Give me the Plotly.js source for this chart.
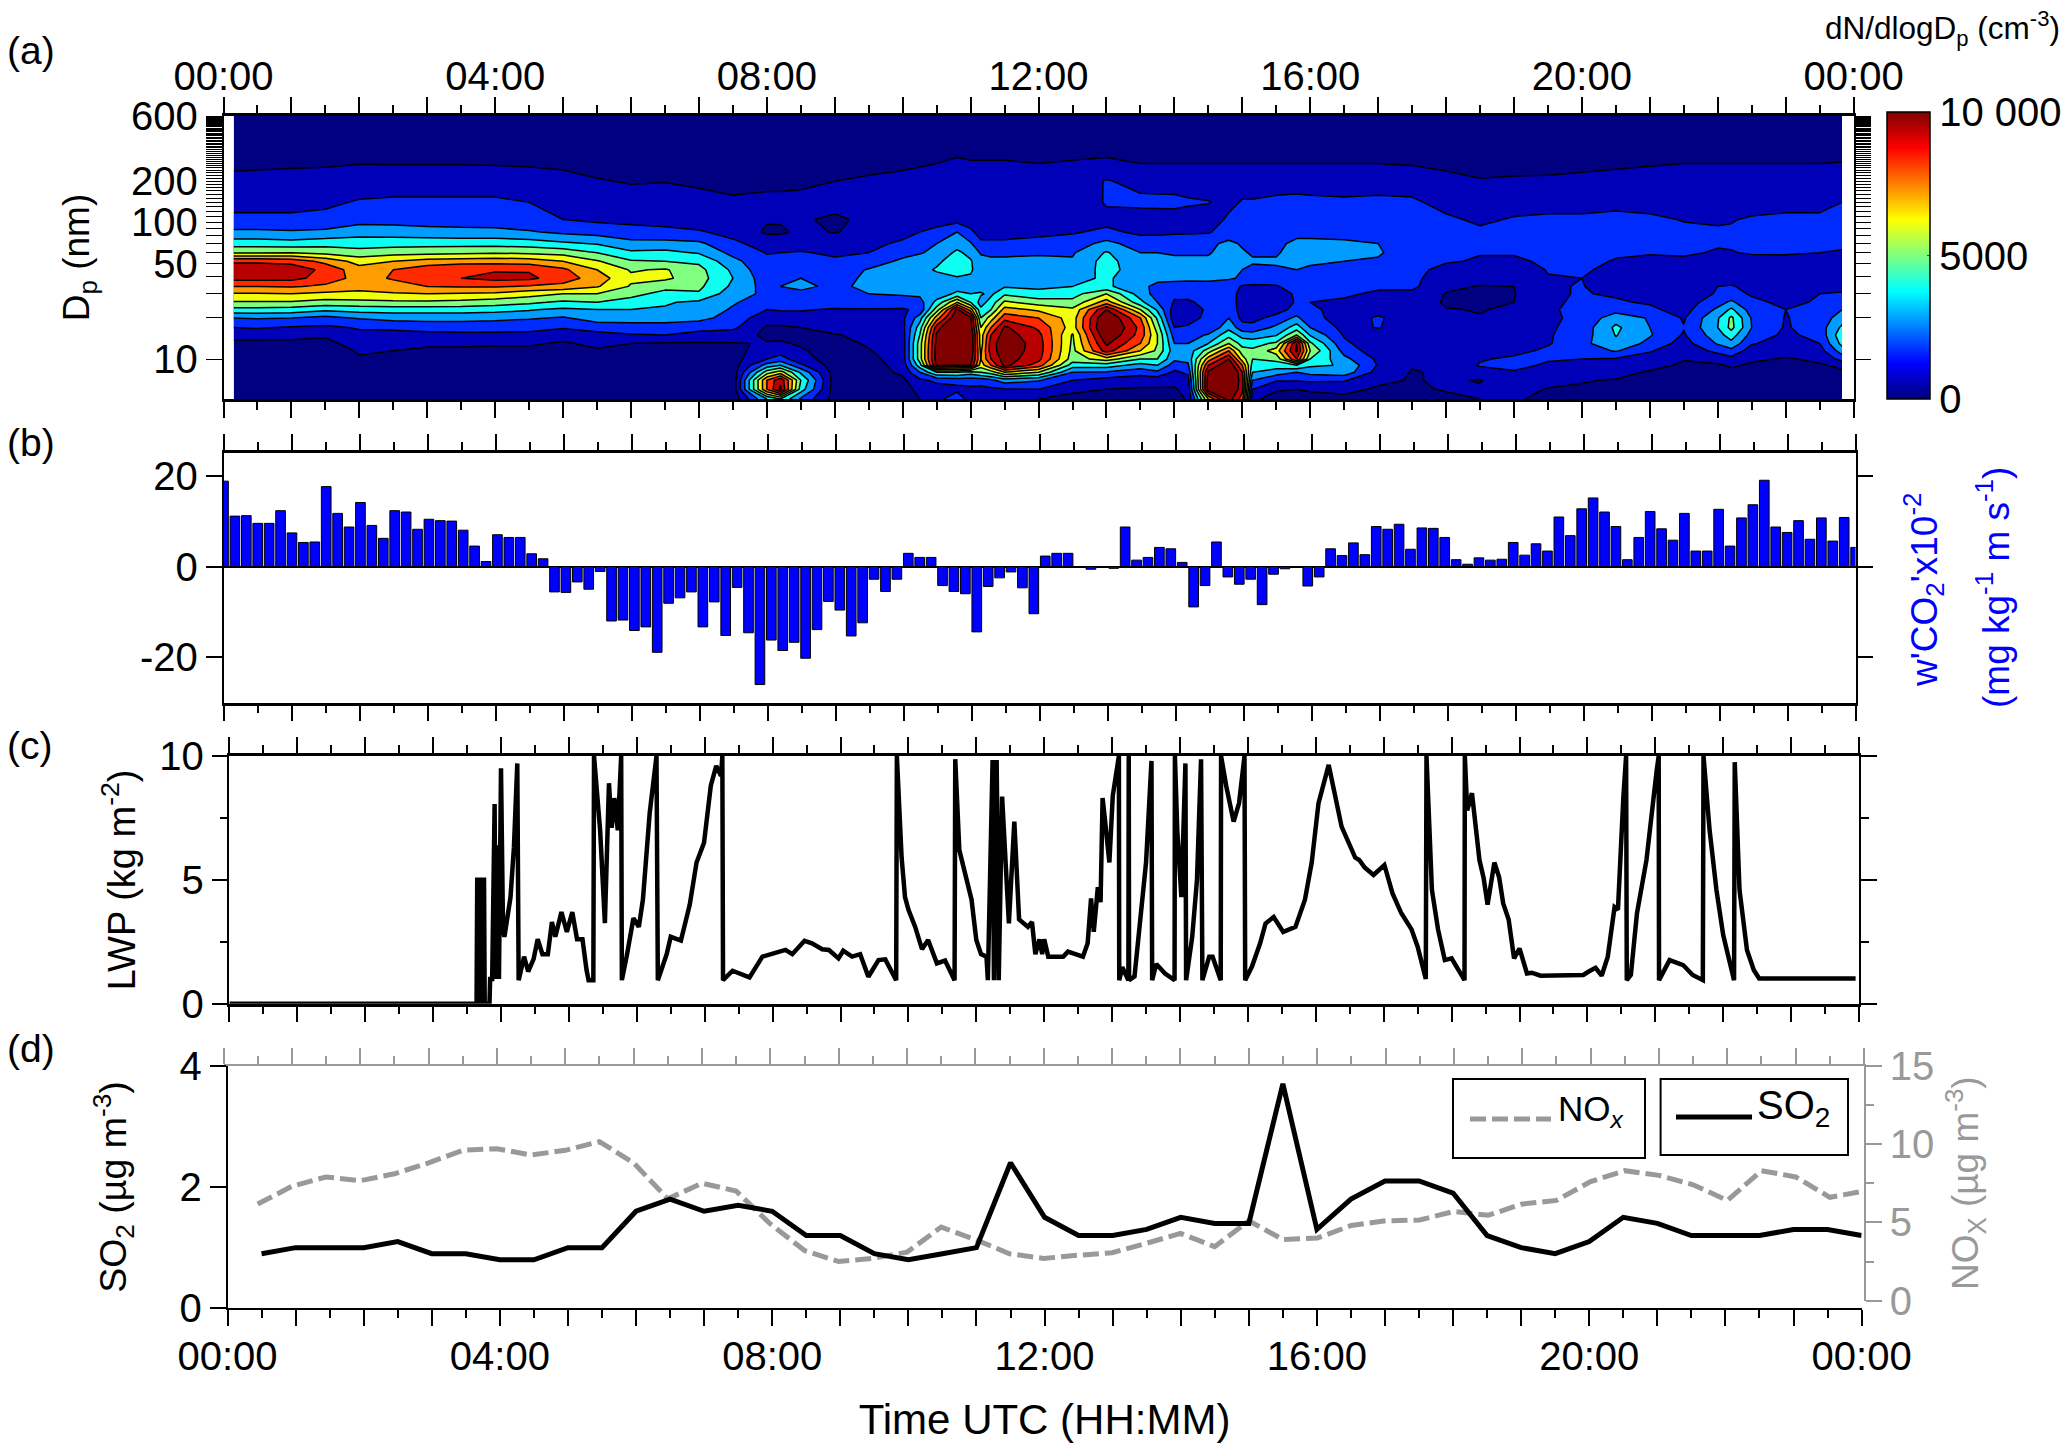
<!DOCTYPE html>
<html>
<head>
<meta charset="utf-8">
<script src="https://cdn.plot.ly/plotly-3.0.1.min.js"></script>
<style>body { margin: 0; background: #fff; }</style>
</head>
<body>
<div id="chart"></div>
<script>
// ---------- panel (a): particle size distribution, in 1000 cm-3 ----------
const sizeTimes = [0.15,0.5,1,1.5,2,2.5,3,3.5,4,4.5,5,5.5,6,6.5,7,7.5,8,8.2,8.5,9,9.5,10,10.25,10.5,10.8,11,11.15,11.3,11.5,12,12.5,13,13.5,13.75,14,14.2,14.5,14.8,15,15.15,15.5,15.8,16,16.5,17,17.5,18,18.5,19,19.5,20,20.5,21,21.5,22,22.2,22.5,23,23.5,23.83];
const diameters = [5.1,6,7,8,9,10,11.5,13,15,17,20,23,26,30,34,39,45,52,60,70,85,105,140,200,270,600];
// one profile per time, small to large diameter
const sizeProfiles = [
[.3,.3,.3,.35,.4,.5,.6,.8,1.3,2,3,4.7,5.9,6.9,8,9.3,9.7,8.8,5.9,4.5,3.2,2.2,1.7,1.2,.85,.3],
[.3,.3,.3,.35,.4,.5,.6,.8,1.3,2.1,3.1,4.7,5.9,6.9,8,9.3,9.7,8.8,5.9,4.5,3.2,2.2,1.7,1.2,.88,.3],
[.3,.3,.3,.35,.4,.5,.6,.85,1.2,1.9,3,4.6,5.9,7,8.1,9.3,9.7,8.6,6,4.4,3.1,2.2,1.7,1.25,.9,.3],
[.3,.3,.3,.3,.35,.4,.5,.8,1.1,1.8,2.7,4.2,5.6,6.8,7.8,8.6,8.7,7.7,5.7,4.6,3.2,2.3,1.8,1.3,.92,.3],
[.3,.3,.3,.3,.4,.9,1.1,1.3,1.7,2.1,3.1,4.4,5.7,6.8,7.3,7.6,7.4,6.6,5.4,4.5,3.6,2.6,2.1,1.4,.98,.3],
[.3,.3,.3,.3,.35,.5,1,1.2,1.5,2.3,3.3,4.5,5.8,6.9,7.6,8.1,8,7,5.6,4.6,3.5,2.6,2.2,1.4,.97,.3],
[.3,.3,.3,.3,.35,.45,.9,1.1,1.6,2.5,3.3,4.5,5.8,7,8,8.6,8.6,7.4,5.7,4.6,3.4,2.5,2.2,1.4,.97,.3],
[.3,.3,.3,.3,.35,.45,.9,1.1,1.7,2.5,3.3,4.5,5.7,6.9,8.1,9,9,7.5,5.8,4.6,3.3,2.5,2.2,1.4,.97,.3],
[.3,.3,.3,.3,.35,.45,.8,1.1,1.7,2.5,3.2,4.4,5.5,6.8,8.1,9.3,8.9,7.6,5.9,4.6,3.3,2.4,2.2,1.4,.95,.3],
[.3,.3,.3,.3,.35,.45,.8,1.1,1.7,2.4,3.1,4.1,5.2,6.4,7.9,9.2,8.9,7.5,5.8,4.5,3.1,2.2,2,1.35,.92,.3],
[.3,.3,.3,.3,.35,.5,.7,.9,1.3,2.1,2.9,3.8,4.8,6,7.7,8.5,8.2,7,5.6,4.2,2.8,2,1.6,1.25,.85,.3],
[.3,.3,.3,.3,.35,.45,.9,1.2,1.6,2.5,3.4,4,5,6,7.1,7.5,7,6.1,5,3.9,2.6,1.8,1.5,1.05,.75,.3],
[.3,.3,.3,.3,.35,.4,.7,1,1.9,2.6,3.4,4,4.6,5.3,5.9,6.2,5.9,5.1,4.2,3.3,2.4,1.7,1.3,.95,.7,.3],
[.3,.3,.3,.3,.35,.4,.6,.9,2,2.7,3.3,3.9,4.1,4.7,5.3,6.2,6.1,5,4.3,3.3,2.3,1.6,1.3,.98,.72,.3],
[.3,.3,.3,.3,.35,.4,.6,.9,1.6,2.4,3.3,3.5,3.8,4.9,5.2,5.4,5.3,4.8,3.9,3.2,2.1,1.5,1.2,.9,.7,.3],
[.3,.3,.3,.4,.5,.6,.8,.95,1.5,2.2,2.6,2.9,3.1,3.4,3.8,4,3.8,3.3,2.7,2.2,1.7,1.3,1.1,.8,.65,.3],
[4,8,8,5.5,3.4,2,1.3,1.05,.8,.9,1.4,2,2.5,2.8,2.6,2.4,2.2,2.2,1.95,1.6,.85,1.1,1.3,.72,.55,.3],
[5,10.2,9.8,6.5,4,2.4,1.6,1.1,.8,.9,1.4,2.1,2.5,2.9,3,2.8,2.3,2.2,2,1.6,.85,1.1,1.3,.72,.55,.3],
[2.8,4.5,5,3.8,2.2,1.4,1.1,.9,.8,1,1.5,2.1,2.7,2.9,3.1,3,2.4,2.1,2.05,1.7,1.2,1.1,1.3,.8,.6,.3],
[.6,.5,.5,.5,.5,.5,.6,.7,.95,1.3,1.7,1.9,2.5,3,2.9,2.6,2.3,2.1,1.9,1.6,.95,.85,1.3,1,.7,.3],
[.5,.5,.5,.5,.55,.7,.95,1.1,1.2,1.4,1.7,1.9,2.7,3,3.1,3.2,3.1,2.2,2,1.7,1.3,1.2,1.3,1.1,.8,.3],
[.6,.7,.8,1.2,1.4,1.5,1.5,1.5,1.6,1.7,1.8,1.9,2.6,3.1,3.3,3.4,3.5,3.3,2.5,2.2,1.6,1.3,1.35,1.15,.9,.3],
[1,1.2,1.8,3,4.5,5.5,5.5,5.5,5,4.5,3.5,2.2,2.6,3.2,3.4,3.5,3.7,3.5,2.9,2.6,2,1.35,1.35,1.2,.95,.3],
[1.5,1.6,2.2,5,10.2,10.5,10.5,10.3,10.2,9.5,7.5,5.5,4.3,3.4,3.5,3.7,4.1,3.8,3.3,3,2.4,1.4,1.4,1.2,1,.3],
[3,1.6,2.5,5,10,11,12,13,13,12,11,10.2,7,4.2,3.6,3.9,4.5,4.5,4.2,3.6,3,1.6,1.5,1.2,1.1,.3],
[1.3,1.8,2.4,4.5,10,10.5,11,11,11,10.5,10.2,7.5,5,4,3.6,3.9,4.1,4.1,3.7,3.1,2.2,1.5,1.3,1.2,1.05,.3],
[1,1.7,2.5,5,6.5,7,6.8,6.5,6.5,6,5,4.2,3.6,4.1,3.6,3.5,3.6,3.3,2.9,2.2,1.6,1.4,1.2,1.15,1.05,.3],
[1.1,1.8,2.8,5.5,8,9,9.5,9.5,9,8,6.5,5,4.4,3.8,3.6,3.5,3.4,3.1,2.9,2.2,1.6,1.3,1.15,1.1,1.05,.3],
[1.2,1.9,3.5,7,10.3,10.5,10.7,10.8,10.5,10.2,8.6,7.4,6.2,4.8,3.9,3.6,3.3,3.1,2.9,2.2,1.6,1.3,1.15,1.1,1.05,.3],
[1,2,3.1,6,8.5,9.3,9.5,9.5,9.3,8.8,8,6.8,5.5,4.3,3.8,3.5,3.6,3.2,2.9,2.4,1.7,1.3,1.15,1.05,1,.3],
[.85,1.1,2,3,4.5,5.5,5.7,5.8,5.9,6.5,6.5,6.2,5.3,4.6,4,3.6,3.2,3.1,2.9,2.5,1.9,1.4,1.2,1.1,1.05,.3],
[.8,1,1.6,2.9,4.5,6.5,9.5,10.2,11,11.5,11.2,10,7.5,6,4.2,4.2,4.4,4.4,4.1,3.3,2.2,1.7,2.1,2.1,1.1,.3],
[.7,.9,1.4,2.4,3.6,5,7,8,8.6,8.7,8,6,4.3,3.5,3.2,3.2,3.4,3.2,3,2.5,1.8,1.4,2.3,1.6,1,.3],
[.7,.9,1.4,2.8,4,5,5.8,6,6,5.5,4.8,3.8,3,2.6,2.8,3.2,3.4,3.2,3,2.5,1.8,1.45,2.3,1.55,1,.3],
[.7,.9,1.3,1.8,2.5,3.2,3.4,3,2.5,2,1.3,1.5,1.9,2.2,2.7,3.2,3.4,3.2,2.9,2.4,1.9,1.5,2.3,1.5,1,.3],
[1.1,1.3,1.6,2.2,2.8,3.3,3.4,3,2.6,2.1,1.7,1.7,1.9,2.2,2.6,3.2,3.4,3.2,2.9,2.5,1.9,1.5,2.15,1.45,1,.3],
[7,10.5,10.5,10.2,9,7.5,5.5,4,3.1,2.1,2.2,2.1,2.2,2.2,2.5,3.3,3.4,3.2,2.9,2.8,1.9,1.4,2.05,1.4,1,.3],
[10.5,11.5,12,12,11,10,8,6,4.6,3.7,3,2.6,2.5,2.4,2.5,3.1,3.5,3.6,3.5,3.2,2.5,2.2,1.7,1.4,1,.3],
[8.5,9.3,9.3,9,8,6.5,5.4,4.6,3.6,2.4,1.7,1.6,1.6,1.7,1.9,2.9,3,3.2,3.1,2.9,2.5,2.3,2.1,1.4,1,.3],
[1.2,2,3,4,4.6,5,5.2,4.6,3.4,2.4,1.6,1.5,1.5,1.6,1.8,2.7,2.8,3.1,2.9,2.8,2.5,2.3,2.1,1.4,1,.3],
[.6,1.1,2.1,3.5,4.5,5.3,6.5,5.2,3.9,3.2,2.4,1.5,1.4,1.5,1.9,2.6,2.9,3.1,2.9,2.7,2.6,2.4,2.3,1.4,1,.3],
[.6,1,2.1,3,5,9,10.2,10,6,4.5,3.2,2.4,2.1,2.15,2.5,3,3,3.3,3.4,3.3,2.6,2.5,2.4,1.4,1,.3],
[.7,1.1,2.2,3.3,4.2,5,6,5.2,3.9,3,2.3,2.1,2,2.1,2.2,2.4,2.8,3.2,3.3,3.3,2.6,2.4,2.3,1.4,1,.3],
[.8,1.2,2.1,3.6,3.9,3.3,2.6,2.2,1.9,1.7,1.6,1.8,1.9,2.1,2.1,2.3,2.6,3,3.3,3.2,2.6,2.4,2.2,1.4,1,.3],
[.7,.9,1.15,1.6,1.9,1.8,1.4,1.3,1.6,2.05,2.1,1.7,1.9,1.9,2.1,2.3,2.6,2.9,3.1,3,2.6,2.4,2.3,1.4,1,.3],
[.6,.8,.95,.95,1.05,1.1,1.2,1.3,1.4,1.5,1.55,1.6,1.7,1.8,2.2,2.3,2.3,2.4,2.5,2.5,2.5,2.4,2.2,1.4,.95,.3],
[.7,1.1,1.1,1.1,1.1,1.15,1.2,1.2,1.1,1.05,1.05,1.05,.85,.95,1.2,1.3,1.7,2.1,2.2,2.2,2.1,2.2,1.6,1.2,.85,.3],
[1,1.1,.95,1.5,2.1,1.9,1.5,1.3,1.2,1.1,1.05,.95,.9,.9,.95,1.3,1.6,1.9,2.05,2.2,2.2,1.8,1.4,1.05,.75,.3],
[1.1,1.3,1.6,1.9,2.3,2.2,1.7,1.4,1.3,1.2,1.1,1.15,1,.95,1,1.2,1.5,1.8,2.1,2.4,2.4,2.1,1.5,1.1,.75,.3],
[.8,.95,1.3,1.6,1.85,2.1,2.2,1.9,1.9,1.85,1.85,1.9,1.9,1.9,1.9,1.95,2.05,2.2,2.3,2.4,2.4,2.2,1.6,1.1,.8,.3],
[.8,.9,1.05,1.5,1.7,2,2.4,2.7,2.5,2.4,2.2,2.2,2.1,2.05,2.05,2,2.2,2.4,2.5,2.6,2.5,2.2,1.6,1.15,.85,.3],
[.7,.8,.95,1.3,1.6,1.9,3.1,3.8,4.05,4.2,3.6,2.6,2.1,1.9,1.5,1.5,1.6,1.9,2.2,2.5,2.6,2.3,1.7,1.2,.9,.3],
[.6,.7,.85,.9,1.3,1.5,2.1,2.7,3.1,3,2.9,2.2,1.9,1.7,1.5,1.4,1.5,1.7,2.1,2.4,2.5,2.2,1.6,1.25,.95,.3],
[.5,.5,.55,.65,.85,1.05,1.3,1.6,1.9,2.05,1.9,1.6,1.5,1.4,1.4,1.4,1.5,1.8,2.15,2.3,2.2,1.95,1.6,1.25,1,.3],
[.5,.5,.6,.7,.9,1.3,2.3,3.1,3.6,4,3.9,3.2,2.6,2.1,2,1.5,1.4,1.5,1.9,2.1,2.1,1.9,1.6,1.3,1,.3],
[.5,.5,.6,.8,1.1,1.7,2.7,3.7,4.5,5.3,5.2,4.2,3.2,2.3,2.1,1.5,1.4,1.6,1.95,2.1,2.1,1.95,1.6,1.3,1,.3],
[.5,.5,.6,.7,.9,1.1,1.5,2.1,2.6,3,2.9,2.5,2.2,1.9,1.6,1.4,1.4,1.6,2.1,2.3,2.3,2.1,1.6,1.3,1,.3],
[.5,.5,.55,.7,.85,.95,1.2,1.5,1.8,1.9,1.95,2,1.8,1.6,1.5,1.4,1.4,1.7,2.1,2.3,2.4,2.2,1.7,1.3,1,.3],
[.5,.5,.6,.7,.95,1.1,1.6,2,2.3,2.5,2.4,2.2,2.1,2,1.7,1.5,1.5,1.7,2,2.2,2.4,2.2,1.7,1.3,1,.3],
[.5,.6,.7,.9,1.1,2.4,3.5,4.3,4.7,4.2,3.5,3,2.5,2.1,1.7,1.6,1.6,1.7,1.95,2.1,2.3,2.6,2,1.4,1.02,.3]
];
const dpLabelled = [10, 50, 100, 200, 600];

// ---------- panel (b): CO2 flux, 143 steps over the day ----------
const co2Flux = [18.8,11.1,11.2,9.5,9.5,12.3,7.4,5.3,5.4,17.6,
 11.7,8.7,14.1,9.05,6.2,12.3,12,8.2,10.4,10.1,
 10,8,4.5,1.1,7,6.4,6.4,2.8,1.7,-5.6,
 -5.7,-3.4,-5,-1.1,-12,-11.8,-14.1,-13.3,-18.9,-8.1,
 -6.9,-5.6,-13.3,-7.8,-15.2,-4.6,-14.6,-26,-16.2,-18.5,
 -16.7,-20.2,-13.9,-7.7,-9.6,-15.3,-12.4,-2.8,-5.5,-2.8,
 2.9,2,2,-4.2,-5.5,-6,-14.4,-4.4,-2.5,-1.2,
 -4.7,-10.4,2.3,2.9,2.9,0,-.6,-.1,-.4,8.7,
 1.4,2,4.2,3.9,.9,-8.9,-4.2,5.4,-2.3,-3.9,
 -2.8,-8.4,-1.7,-.5,-.1,-4.3,-2.3,3.9,2.4,5.2,
 2.6,8.8,8.2,9.3,3.8,8.5,8.4,6.4,1.5,.5,
 1.9,1.4,1.6,5.3,2.5,5,3.4,10.9,6.8,12.7,
 15.1,12,8.8,1.5,6.4,12.1,8.3,5.8,11.7,3.4,
 3.4,12.6,4.5,10.7,13.6,19,8.7,7.5,10.1,6,
 10.7,5.6,10.8,4.2];

// ---------- panel (c): liquid water path ----------
const lwpTimes = [0,3.64,3.65,3.68,3.69,3.71,3.72,3.75,3.76,3.83,3.84,3.87,3.906,3.92,3.94,3.97,4,4.03,4.05,4.14,4.19,4.24,4.26,4.34,4.4,4.48,4.54,4.61,4.69,4.75,4.8,4.89,4.97,5.05,5.12,5.2,5.26,5.29,5.36,5.37,5.46,5.53,5.59,5.63,5.67,5.72,5.77,5.78,5.85,5.95,6.03,6.09,6.19,6.29,6.31,6.44,6.5,6.65,6.78,6.88,6.99,7.09,7.17,7.24,7.26,7.27,7.41,7.66,7.85,8,8.19,8.29,8.47,8.58,8.73,8.83,8.97,9.04,9.17,9.29,9.41,9.56,9.66,9.82,9.83,9.9,9.95,10,10.1,10.2,10.29,10.42,10.54,10.68,10.69,10.75,10.83,10.93,11,11.07,11.15,11.17,11.24,11.26,11.3,11.33,11.38,11.43,11.48,11.56,11.63,11.76,11.82,11.87,11.93,11.97,12,12.06,12.28,12.35,12.57,12.64,12.69,12.73,12.79,12.83,12.86,12.9,12.96,13.01,13.1,13.105,13.15,13.24,13.245,13.25,13.33,13.4,13.5,13.58,13.59,13.65,13.71,13.78,13.92,13.925,13.96,14.02,14.08,14.09,14.18,14.25,14.31,14.33,14.43,14.48,14.6,14.605,14.68,14.79,14.87,14.95,14.96,15.06,15.18,15.26,15.38,15.52,15.7,15.84,15.94,16.04,16.19,16.28,16.38,16.58,16.64,16.72,16.85,17.01,17.13,17.26,17.41,17.5,17.62,17.63,17.71,17.8,17.9,18,18.19,18.195,18.23,18.3,18.36,18.41,18.47,18.53,18.63,18.7,18.76,18.84,18.92,19,19.11,19.18,19.31,19.94,20.02,20.12,20.21,20.3,20.4,20.45,20.53,20.57,20.58,20.64,20.73,20.87,21.02,21.05,21.055,21.21,21.41,21.55,21.7,21.71,21.8,21.9,22,22.09,22.16,22.17,22.24,22.35,22.45,22.53,23.95];
const lwpValues = [0,0,5,5,0,0,5,5,0,0,1,1,8.06,1,6.4,1,9.5,3,2.7,4.3,6.3,9.7,.95,1.9,1.3,1.8,2.6,2,2,3.3,2.7,3.7,2.9,3.7,2.6,2.6,1.36,.95,.95,10,7,3.25,8.9,7.1,8.3,7,10,.95,1.9,3.45,3.1,4.2,7.7,10,.95,2,2.7,2.55,4,5.7,6.5,8.8,9.6,9.2,10,.95,1.33,1.06,1.9,2,2.17,2,2.54,2.44,2.2,2.17,1.83,2.14,1.9,2,1.09,1.76,1.79,.95,10,5.9,4.3,3.8,3.1,2.2,2.57,1.63,1.74,.95,9.87,6.2,5.3,4.2,2.57,2,1.9,.95,9.84,.95,9.84,.95,8.36,5.7,3.24,7.35,3.4,3.1,3.3,2,2.6,2,2.6,1.9,1.9,2.1,1.9,2.44,4.25,2.9,4.7,4.1,8.3,7.3,5.7,8.4,10,.95,1.47,.95,10,.95,1.1,3,5.7,9.8,.95,1.6,1.43,1.22,.95,10,7,4.3,9.7,.95,2.7,5,9.87,.95,1.9,1.9,.95,10,8.8,7.35,8.1,10,.95,1.5,2.44,3.24,3.5,2.9,3.1,4.2,5.7,8.1,9.64,8.4,7.15,5.9,5.8,5.5,5.2,5.6,4.45,3.65,3,2.3,1,10,4.6,3,1.76,1.83,.95,10,7.8,8.5,7,5.8,5.1,4,5.7,5.1,4.05,3.4,1.83,2.23,1.22,1.25,1.13,1.16,1.3,1.45,1.13,1.9,3.9,3.8,8.36,10,.95,1.16,3.65,5.8,9.4,10,.95,1.76,1.56,1.16,.95,10,7,4.6,2.77,1.76,.95,9.75,4.6,2.17,1.36,1.02,1.02];

// ---------- panel (d): half hourly gases ----------
const gasTimes = [0.5,1,1.5,2,2.5,3,3.5,4,4.5,5,5.5,6,6.5,7,7.5,8,8.5,9,9.5,10,10.5,11,11.5,12,12.5,13,13.5,14,14.5,15,15.5,16,16.5,17,17.5,18,18.5,19,19.5,20,20.5,21,21.5,22,22.5,23,23.5,24];
const so2Values = [.9,1,1,1,1.1,.9,.9,.8,.8,1,1,1.6,1.8,1.6,1.7,1.6,1.2,1.2,.9,.8,.9,1,2.4,1.5,1.2,1.2,1.3,1.5,1.4,1.4,3.7,1.3,1.8,2.1,2.1,1.9,1.2,1,.9,1.1,1.5,1.4,1.2,1.2,1.2,1.3,1.3,1.2];
const noxValues = [6.17,7.3,7.9,7.66,8.1,8.8,9.6,9.7,9.3,9.6,10.15,8.8,6.5,7.5,7,4.9,3.2,2.5,2.7,3.1,4.7,3.9,3,2.7,2.9,3.06,3.66,4.3,3.45,5.1,3.9,4,4.8,5.1,5.15,5.7,5.45,6.17,6.4,7.6,8.3,8,7.4,6.4,8.3,7.9,6.6,7];

// ---------- axes helpers ----------
const W = 2067, H = 1447;
const HOUR = 3600000;
const toDate = h => h * HOUR;
const GREY = "#999999";
const NOX_DASH = "16px,6px";

const dpTicks = [];
for (let d = 10; d <= 600; d += 10) dpTicks.push(d);

const xDomain = (left, right) => [left / W, right / W];
const yDomain = (top, bottom) => [1 - bottom / H, 1 - top / H];

function timeAxis(left, right, anchor, extra) {
    return Object.assign({
        type: "date", domain: xDomain(left, right), range: [0, 24 * HOUR], anchor: anchor,
        tick0: 0, dtick: HOUR, tickformat: "%H:%M", ticklabelstep: 4, showticklabels: false,
        ticks: "outside", ticklen: 16, tickwidth: 1.5, tickcolor: "#000",
        minor: {ticks: "outside", tick0: 0, dtick: HOUR / 2, ticklen: 8, tickwidth: 1.5, tickcolor: "#000"},
        showline: true, linecolor: "#000", linewidth: 2, mirror: "ticks",
        showgrid: false, zeroline: false,
    }, extra);
}

const jet = [[0, "#000080"], [0.125, "#0000ff"], [0.375, "#00ffff"], [0.625, "#ffff00"], [0.875, "#ff0000"], [1, "#800000"]];
const sizeGrid = diameters.map((_, r) => sizeProfiles.map(col => col[r]));
const barTimes = co2Flux.map((_, i) => i * 24 / 143);

const traces = [
    // only carries the smooth colour bar, sits outside the time range
    {type: "heatmap", x: [toDate(-3), toDate(-2)], y: [100], z: [[0, 10]], xaxis: "x", yaxis: "y", zmin: 0, zmax: 10, colorscale: jet,
     hoverinfo: "skip", showscale: true,
     colorbar: {thickness: 43, thicknessmode: "pixels", len: 287, lenmode: "pixels",
        x: 1887 / W, xanchor: "left", xpad: 0, y: 1 - 112 / H, yanchor: "top", ypad: 0,
        tickmode: "array", tickvals: [0, 5, 10], ticktext: ["0", "5000", "10 000"], ticks: "inside", ticklen: 3,
        outlinecolor: "#000", outlinewidth: 1.5, tickfont: {size: 40, color: "#000"}}},
    {type: "contour", x: sizeTimes.map(toDate), y: diameters, z: sizeGrid, xaxis: "x", yaxis: "y", zmin: 0, zmax: 10, colorscale: jet,
     showscale: false, autocontour: false, contours: {start: 1, end: 10, size: 1, coloring: "fill"},
     line: {color: "#000", width: 1.5, smoothing: 0}},
    {type: "bar", x: barTimes.map(toDate), y: co2Flux, xaxis: "x2", yaxis: "y2", width: 0.142 * HOUR,
     marker: {color: "#0000ff", line: {color: "#000", width: 1}}},
    {type: "scatter", mode: "lines", x: lwpTimes.map(toDate), y: lwpValues, xaxis: "x3", yaxis: "y3",
     line: {color: "#000", width: 4.5}},
    {type: "scatter", mode: "lines", name: "NOx", x: gasTimes.map(toDate), y: noxValues, xaxis: "x4", yaxis: "y4",
     line: {color: GREY, width: 5, dash: NOX_DASH}},
    {type: "scatter", mode: "lines", name: "SO2", x: gasTimes.map(toDate), y: so2Values, xaxis: "x5", yaxis: "y5",
     line: {color: "#000", width: 5}},
];

const panelLabel = (text, y) => ({text: text, xref: "paper", yref: "paper", x: 5 / W, y: 1 - y / H, xanchor: "left", yanchor: "middle",
    showarrow: false, font: {size: 39, color: "#000"}});

// legend of panel (d): two separate framed boxes
const legendBox = (x0, x1, y0, y1) => ({type: "rect", xref: "paper", yref: "paper", x0: x0 / W, x1: x1 / W, y0: 1 - y1 / H, y1: 1 - y0 / H,
    layer: "above", line: {color: "#000", width: 2}, fillcolor: "#fff"});
const legendKey = (x0, x1, y, line) => ({type: "line", xref: "paper", yref: "paper", x0: x0 / W, x1: x1 / W, y0: 1 - y / H, y1: 1 - y / H,
    layer: "above", line: line});
const legendText = (text, x, y, size) => ({text: text, xref: "paper", yref: "paper", x: x / W, y: 1 - y / H, xanchor: "left", yanchor: "middle",
    showarrow: false, font: {size: size, color: "#000"}});

const layout = {
    width: W, height: H, margin: {l: 0, r: 0, t: 0, b: 0},
    paper_bgcolor: "#fff", plot_bgcolor: "rgba(0,0,0,0)",
    font: {family: "Liberation Sans, Arial, sans-serif", size: 40, color: "#000"},
    showlegend: false,
    // (a)
    xaxis: timeAxis(223.5, 1853.6, "y", {side: "top", showticklabels: true, ticklabelstandoff: -9, linewidth: 2.5}),
    yaxis: {domain: yDomain(116, 399), type: "log", range: [Math.log10(5.1), Math.log10(600)], anchor: "x",
        tickmode: "array", tickvals: dpLabelled, ticktext: dpLabelled.map(String),
        ticks: "outside", ticklen: 16, tickwidth: 1, tickcolor: "#000",
        minor: {ticks: "outside", tickmode: "array", tickvals: dpTicks, ticklen: 16, tickwidth: 1, tickcolor: "#000"},
        showline: true, linecolor: "#000", linewidth: 1.5, mirror: "ticks", showgrid: false, zeroline: false,
        title: {text: "D<sub>p</sub> (nm)", font: {size: 37}, standoff: 30}},
    // (b)
    xaxis2: timeAxis(223.5, 1855.6, "y2", {linewidth: 2.5}),
    yaxis2: {domain: yDomain(453, 702.7), range: [-30, 25], anchor: "x2", tickmode: "array", tickvals: [-20, 0, 20], ticktext: ["-20", "0", "20"],
        ticks: "outside", ticklen: 16, tickwidth: 1.5, tickcolor: "#000", showline: true, linecolor: "#000", linewidth: 1.5, mirror: "ticks",
        showgrid: false, zeroline: true, zerolinecolor: "#000", zerolinewidth: 1.5},
    // (c)
    xaxis3: timeAxis(229.4, 1859, "y3", {linewidth: 2.5}),
    yaxis3: {domain: yDomain(756, 1003.7), range: [0, 10], anchor: "x3", tickmode: "array", tickvals: [0, 5, 10],
        ticks: "outside", ticklen: 16, tickwidth: 1.5, tickcolor: "#000",
        minor: {ticks: "outside", tickmode: "linear", tick0: 0, dtick: 2.5, ticklen: 8, tickwidth: 1.5, tickcolor: "#000"},
        showline: true, linecolor: "#000", linewidth: 1.5, mirror: "ticks", showgrid: false, zeroline: false,
        title: {text: "LWP (kg m<sup>-2</sup>)", font: {size: 38}, standoff: 12}},
    // (d) NOx has its own grey frame
    xaxis4: timeAxis(223.5, 1864, "y4", {side: "top", mirror: false, tickcolor: GREY, linecolor: GREY, linewidth: 1.5,
        minor: {ticks: "outside", tick0: 0, dtick: HOUR / 2, ticklen: 8, tickwidth: 1.5, tickcolor: GREY}}),
    yaxis4: {domain: yDomain(1065.7, 1300.7), range: [0, 15], anchor: "x4", side: "right", tickmode: "array", tickvals: [0, 5, 10, 15],
        ticks: "outside", ticklen: 16, tickwidth: 1.5, tickcolor: GREY, tickfont: {color: GREY, size: 40},
        minor: {ticks: "outside", tickmode: "linear", tick0: 0, dtick: 2.5, ticklen: 8, tickwidth: 1.5, tickcolor: GREY},
        showline: true, linecolor: GREY, linewidth: 1.5, showgrid: false, zeroline: false,
        title: {text: "NO<sub>X</sub> (µg m<sup>-3</sup>)", font: {size: 37, color: GREY}, standoff: 19}},
    xaxis5: timeAxis(227.5, 1861.6, "y5", {side: "bottom", mirror: false, showticklabels: true, ticklabelstandoff: -4,
        title: {text: "Time UTC (HH:MM)", font: {size: 42}, standoff: 27}}),
    yaxis5: {domain: yDomain(1065.7, 1308.3), range: [0, 4], anchor: "x5", tickmode: "array", tickvals: [0, 2, 4],
        ticks: "outside", ticklen: 16, tickwidth: 1.5, tickcolor: "#000",
        showline: true, linecolor: "#000", linewidth: 1.5, showgrid: false, zeroline: false,
        title: {text: "SO<sub>2</sub> (µg m<sup>-3</sup>)", font: {size: 37.5}, standoff: 41}},
    shapes: [
        legendBox(1453, 1645, 1079, 1158),
        legendKey(1470, 1551, 1119, {color: GREY, width: 5, dash: NOX_DASH}),
        legendBox(1660.6, 1848, 1079, 1155),
        legendKey(1676, 1752, 1117, {color: "#000", width: 5}),
    ],
    annotations: [
        panelLabel("(a)", 51), panelLabel("(b)", 442), panelLabel("(c)", 745), panelLabel("(d)", 1048),
        {text: "dN/dlogD<sub>p</sub> (cm<sup>-3</sup>)", xref: "paper", yref: "paper", x: 2062 / W, y: 1 - 28 / H, xanchor: "right", yanchor: "middle",
         showarrow: false, font: {size: 31.5, color: "#000"}},
        {text: "w'CO<sub>2</sub>'x10<sup>-2</sup>", xref: "paper", yref: "paper", x: 1923 / W, y: 1 - 590 / H,
         xanchor: "center", yanchor: "middle", textangle: -90, showarrow: false, font: {size: 37, color: "#0000ff"}},
        {text: "(mg kg<sup>-1</sup> m s<sup>-1</sup>)", xref: "paper", yref: "paper", x: 1993 / W, y: 1 - 588 / H,
         xanchor: "center", yanchor: "middle", textangle: -90, showarrow: false, font: {size: 37, color: "#0000ff"}},
        legendText("NO<sub><i>x</i></sub>", 1556, 1111, 35),
        legendText("SO<sub>2</sub>", 1755, 1108, 40),
    ],
};

Plotly.newPlot("chart", traces, layout, {displayModeBar: false, responsive: false});
</script>
</body>
</html>
